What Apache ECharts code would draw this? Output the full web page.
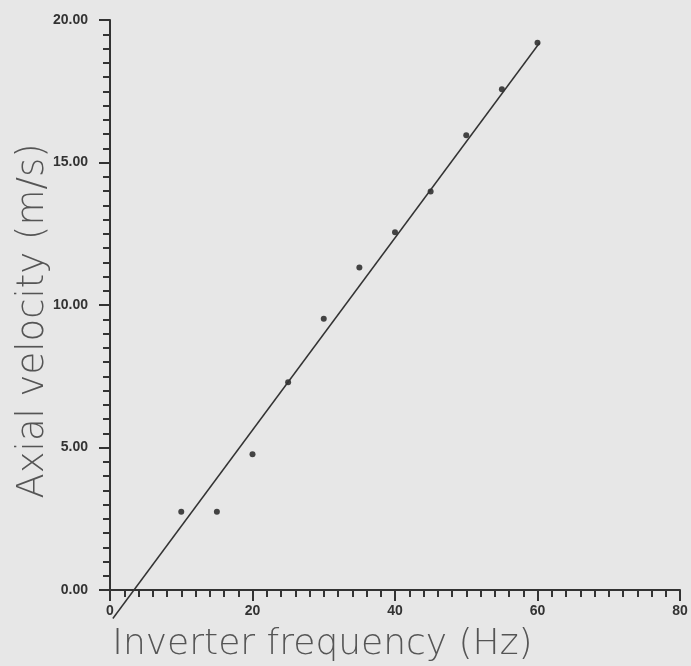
<!DOCTYPE html>
<html>
<head>
<meta charset="utf-8">
<script src="https://cdn.jsdelivr.net/npm/echarts@6/dist/echarts.min.js"></script>
<style>
  html, body { margin: 0; padding: 0; background: #e7e7e7; }
  #chart { width: 691px; height: 666px; }
</style>
</head>
<body>
<div id="chart"></div>
<script>
// measured points
var freq = [10, 15, 20, 25, 30, 35, 40, 45, 50, 55, 60];
var velocity = [2.75, 2.75, 4.76, 7.29, 9.52, 11.32, 12.55, 13.98, 15.96, 17.57, 19.2];

// fitted straight line, end points
var fitX = [0.4, 60.3];
var fitY = [-1.0, 19.2];

var myChart = echarts.init(document.getElementById("chart"));

var labelStyle = {
  color: "#333",
  fontSize: 14,
  fontWeight: "bold",
  fontFamily: "Liberation Sans"
};

var option = {
  backgroundColor: "#e7e7e7",
  animation: false,
  grid: {
    left: 110,
    right: 11,
    top: 20,
    bottom: 76,
    outerBoundsMode: "none"
  },
  xAxis: {
    type: "value",
    min: 0,
    max: 80,
    interval: 20,
    name: "Inverter frequency (Hz)",
    nameLocation: "middle",
    nameGap: 37,
    nameMoveOverlap: false,
    nameTextStyle: {
      color: "#555",
      fontSize: 36,
      fontWeight: 200,
      fontFamily: "DejaVu Sans",
      padding: [0, 145, 0, 0]
    },
    axisLine: { onZero: false, lineStyle: { color: "#333", width: 2 } },
    axisTick: { show: true, inside: false, length: 11, lineStyle: { color: "#333", width: 2 } },
    minorTick: { show: true, splitNumber: 10, length: 7, lineStyle: { color: "#333", width: 2 } },
    axisLabel: Object.assign({ margin: 14 }, labelStyle),
    splitLine: { show: false }
  },
  yAxis: {
    type: "value",
    min: 0,
    max: 20,
    interval: 5,
    name: "Axial velocity (m/s)",
    nameLocation: "middle",
    nameGap: 58,
    nameMoveOverlap: false,
    nameTextStyle: {
      color: "#555",
      fontSize: 37,
      fontWeight: 200,
      fontFamily: "DejaVu Sans",
      padding: [0, 32, 0, 0]
    },
    axisLine: { onZero: false, lineStyle: { color: "#333", width: 2 } },
    axisTick: { show: true, inside: false, length: 11, lineStyle: { color: "#333", width: 2 } },
    minorTick: { show: true, splitNumber: 10, length: 7, lineStyle: { color: "#333", width: 2 } },
    axisLabel: Object.assign({
      margin: 22,
      formatter: function (v) { return v.toFixed(2); }
    }, labelStyle),
    splitLine: { show: false }
  },
  series: [
    {
      type: "line",
      data: fitX.map(function (x, i) { return [x, fitY[i]]; }),
      showSymbol: false,
      clip: false,
      lineStyle: { color: "#333", width: 1.5 }
    },
    {
      type: "scatter",
      data: freq.map(function (x, i) { return [x, velocity[i]]; }),
      symbolSize: 6,
      itemStyle: { color: "#1a1a1a" }
    }
  ]
};

myChart.setOption(option);
</script>
</body>
</html>
